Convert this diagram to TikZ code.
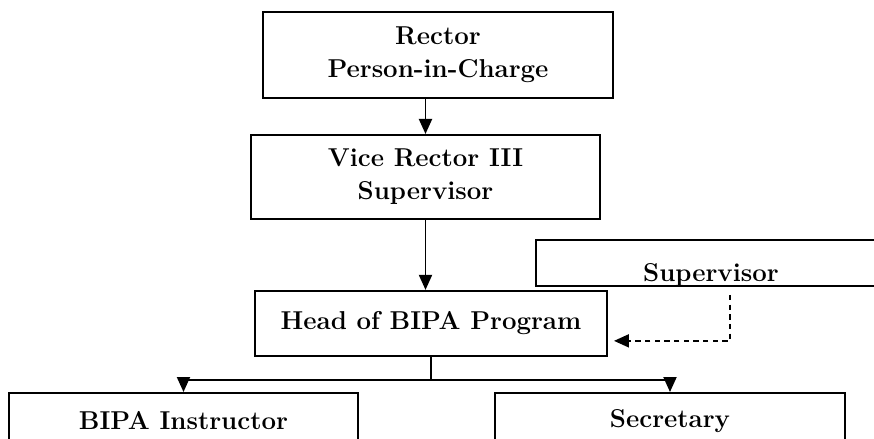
\documentclass[tikz,border=0pt]{standalone}
\usetikzlibrary{arrows.meta}
\usetikzlibrary{positioning}

\begin{document}
\begin{tikzpicture}[node distance=0.7cm,
    >={Triangle[length=0.3cm, width=0.26cm]},
    unitbox/.style={rectangle, draw, line width=1.1pt, text centered, inner sep=0pt,
        font=\fontsize{14.7}{19}\selectfont\bfseries}]
            \useasboundingbox (0,0) rectangle (17.48,-8.78);
            \clip (0,0) rectangle (17.48,-8.78);
            % Define blocks
            \node [unitbox, align=center, minimum width=7cm, minimum height=1.72cm] (rector) at (8.76,-1.1) {Rector \\ Person-in-Charge};
            \node [unitbox, align=center, minimum width=6.98cm, minimum height=1.68cm, below=0.7cm of rector, xshift=-0.25cm] (vice) {Vice Rector III \\ Supervisor};
            \node [unitbox, minimum width=7.04cm, minimum height=1.3cm, below=1.4cm of vice, xshift=0.11cm] (head) {Head of BIPA Program};

            \node [unitbox, minimum width=7cm, minimum height=0.92cm, anchor=north west] (sup) at (10.7,-4.78) {};
            \node [anchor=base, font=\fontsize{14.7}{19}\selectfont\bfseries] (suptext) at ([yshift=0.1cm]sup.south) {Supervisor};

            \node [unitbox, minimum width=6.98cm, minimum height=1.12cm] (instructor) at (3.67,-8.42) {BIPA Instructor};
            \node [unitbox, minimum width=7cm, minimum height=1.12cm] (secretary) at (13.4,-8.42) {Secretary};

            % Define arrows
            \draw [->, line width=1.1pt] (rector.south -| vice.north) -- (vice.north);
            \draw [->, line width=1.1pt] (vice.south) -- (vice.south |- head.north);
            \draw [->, line width=1.1pt] (head.south) -- ++(0,-0.46) -| (instructor.north);
            \draw [->, line width=1.1pt] (head.south) -- ++(0,-0.46) -| (secretary.north);
            \draw [->, line width=1.1pt, dash pattern=on 3pt off 2.5pt] ([xshift=0.38cm,yshift=-0.16cm]sup.south) |- ([xshift=0.12cm,yshift=-0.35cm]head.east);
        \end{tikzpicture}
\end{document}
